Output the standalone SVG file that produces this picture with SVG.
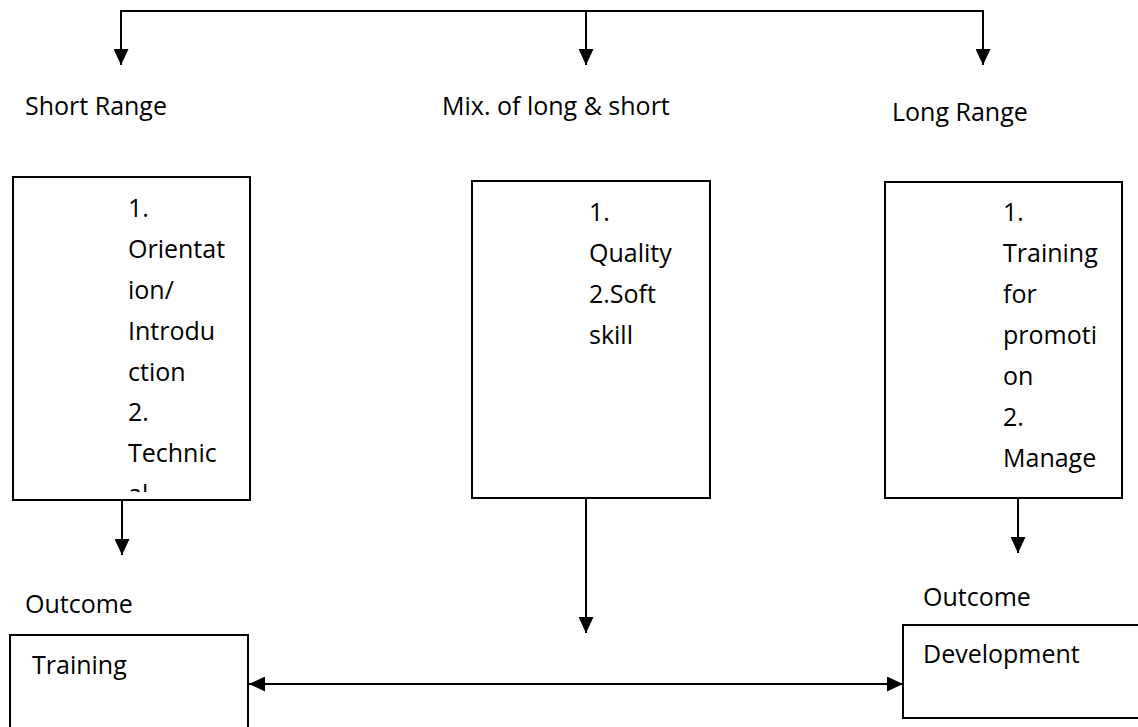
<svg xmlns="http://www.w3.org/2000/svg" width="1138" height="727" viewBox="0 0 1138 727">
<style>
  text { font-family: "Open Sans", "Liberation Sans", sans-serif; font-size: 25px; fill: #000; }
  .box { fill: #fff; stroke: #000; stroke-width: 2; }
  .ln { fill: none; stroke: #000; stroke-width: 2; }
</style>
<defs>
  <marker id="ah" markerUnits="userSpaceOnUse" markerWidth="16" markerHeight="15" refX="16" refY="7.5" orient="auto-start-reverse">
    <path d="M0,0 L16,7.5 L0,15 Z" fill="#000"/>
  </marker>
  <clipPath id="clipL"><rect x="12" y="178" width="236" height="314"/></clipPath>
</defs>
<rect width="1138" height="727" fill="#fff"/>

<g id="connectors">
  <path class="ln" d="M121,65 V11 H983 V65" marker-start="url(#ah)" marker-end="url(#ah)"/>
  <path class="ln" d="M586,11 V65" marker-end="url(#ah)"/>
  <path class="ln" d="M122,500 V555" marker-end="url(#ah)"/>
  <path class="ln" d="M586,498 V633" marker-end="url(#ah)"/>
  <path class="ln" d="M1018,498 V553" marker-end="url(#ah)"/>
  <path class="ln" d="M249,684 H903" marker-start="url(#ah)" marker-end="url(#ah)"/>
</g>

<g id="label-short"><text x="25" y="115">Short Range</text></g>
<g id="label-mix"><text x="442" y="115">Mix. of long &amp; short</text></g>
<g id="label-long"><text x="892" y="121">Long Range</text></g>

<g id="box-short">
  <rect class="box" x="13" y="177" width="237" height="323"/>
  <g clip-path="url(#clipL)">
    <text x="128" y="217">1.</text>
    <text x="128" y="258">Orientat</text>
    <text x="128" y="299">ion/</text>
    <text x="128" y="340">Introdu</text>
    <text x="128" y="381">ction</text>
    <text x="128" y="421">2.</text>
    <text x="128" y="462">Technic</text>
    <text x="128" y="503">al</text>
  </g>
</g>

<g id="box-mix">
  <rect class="box" x="472" y="181" width="238" height="317"/>
  <text x="589" y="221">1.</text>
  <text x="589" y="262">Quality</text>
  <text x="589" y="303">2.Soft</text>
  <text x="589" y="344">skill</text>
</g>

<g id="box-long">
  <rect class="box" x="885" y="182" width="237" height="316"/>
  <text x="1003" y="221">1.</text>
  <text x="1003" y="262">Training</text>
  <text x="1003" y="303">for</text>
  <text x="1003" y="344">promoti</text>
  <text x="1003" y="385">on</text>
  <text x="1003" y="426">2.</text>
  <text x="1003" y="467">Manage</text>
</g>

<g id="label-outcome-left"><text x="25" y="613">Outcome</text></g>
<g id="label-outcome-right"><text x="923" y="606">Outcome</text></g>

<g id="box-training">
  <rect class="box" x="10" y="635" width="238" height="100"/>
  <text x="32" y="674">Training</text>
</g>

<g id="box-development">
  <rect class="box" x="903" y="625" width="245" height="93"/>
  <text x="923" y="663">Development</text>
</g>
</svg>
